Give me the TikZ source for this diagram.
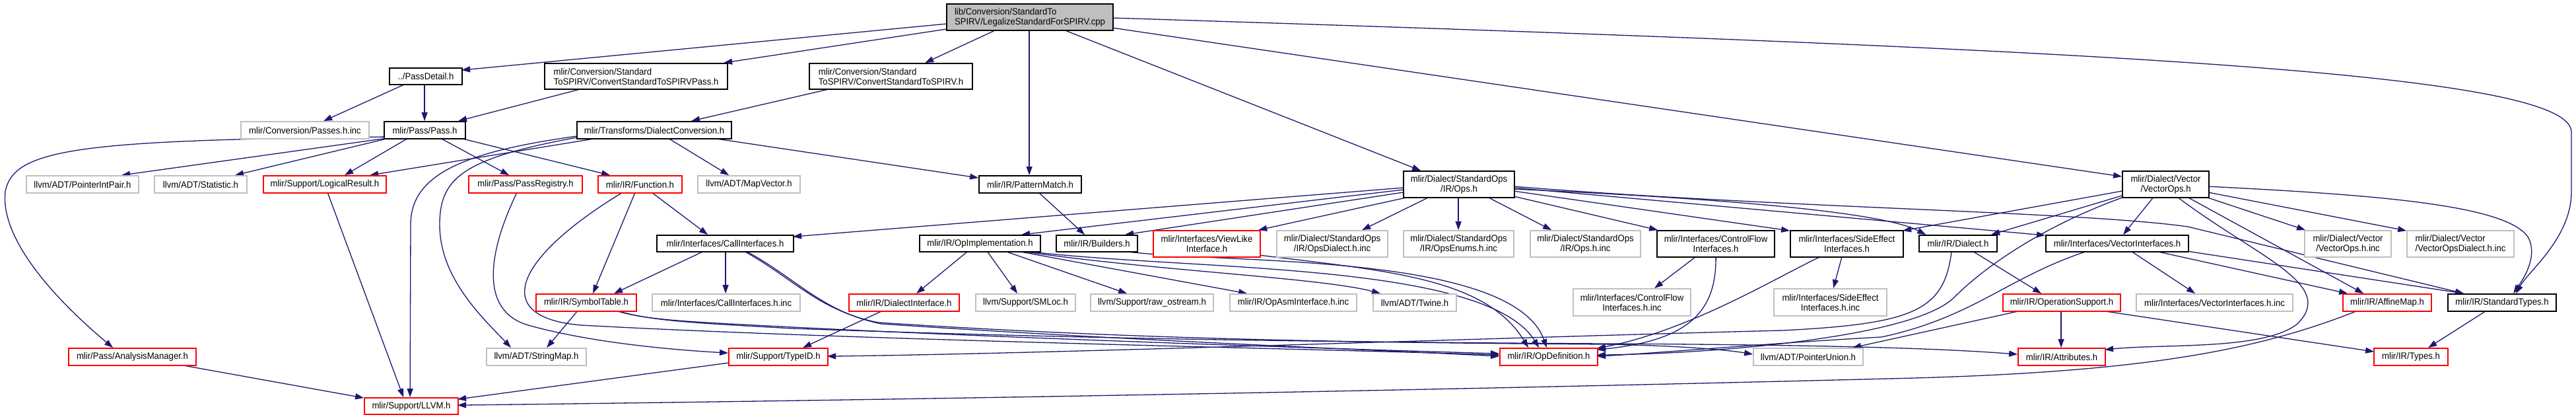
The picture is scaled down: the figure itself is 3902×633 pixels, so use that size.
\documentclass[tikz,border=0pt]{standalone}
\usepackage{fontspec}
\setmainfont{Liberation Sans}[FakeStretch=0.94]
\usetikzlibrary{arrows.meta,calc}
\definecolor{mblue}{RGB}{25,25,112}
\definecolor{lgray}{RGB}{191,191,191}
\definecolor{rootfill}{RGB}{191,191,191}
\pgfdeclarelayer{bgl}
\pgfdeclarelayer{edl}
\pgfsetlayers{bgl,edl,main}
\tikzset{
  nd/.style={draw, line width=1.8pt, inner xsep=4pt, inner ysep=0pt, minimum height=26pt, fill=white, font=\fontsize{14}{15}\selectfont},
  blk/.style={nd, draw=black},
  rd/.style={nd, draw=red},
  gy/.style={nd, draw=lgray},
  rt/.style={nd, draw=black, fill=rootfill},
  two/.style={minimum height=40pt},
  dep/.style={draw=mblue, line width=1.3pt, -{Triangle[length=13pt,width=9pt]}}
}
\begin{document}
\begin{tikzpicture}[x=1pt,y=-1pt]
\useasboundingbox (0,0) rectangle (3902,633);
\begin{pgfonlayer}{bgl}
\fill[white] (0,0) rectangle (3902,633);
\end{pgfonlayer}
% row 0
\node[rt, two, minimum width=252pt, align=left] (root) at (1560,26) {lib/Conversion/StandardTo\\SPIRV/LegalizeStandardForSPIRV.cpp};
% row 1
\node[blk, minimum width=110pt, minimum height=25pt] (passdetail) at (645,115.5) {../PassDetail.h};
\node[blk, minimum width=277pt, minimum height=39pt, align=left] (cpass) at (963.5,115.5) {mlir/Conversion/Standard\\ToSPIRV/ConvertStandardToSPIRVPass.h};
\node[blk, minimum width=247pt, minimum height=39pt, align=left] (cstd) at (1349.5,115.5) {mlir/Conversion/Standard\\ToSPIRV/ConvertStandardToSPIRV.h};
% row 2
\node[gy, minimum width=194pt] (passesinc) at (462,197) {mlir/Conversion/Passes.h.inc};
\node[blk, minimum width=123pt] (pass) at (643.5,197) {mlir/Pass/Pass.h};
\node[blk, minimum width=234pt] (dconv) at (991,197) {mlir/Transforms/DialectConversion.h};
% row 3
\node[blk, two, minimum width=168pt, align=center] (stdops) at (2210,279) {mlir/Dialect/StandardOps\\/IR/Ops.h};
\node[blk, two, minimum width=131pt, align=center] (vecops) at (3280.5,279) {mlir/Dialect/Vector\\/VectorOps.h};
\node[gy, minimum width=170pt] (pip) at (125,279) {llvm/ADT/PointerIntPair.h};
\node[gy, minimum width=140pt] (stat) at (304,279) {llvm/ADT/Statistic.h};
\node[rd, minimum width=186pt] (logres) at (492,279) {mlir/Support/LogicalResult.h};
\node[rd, minimum width=172pt] (passreg) at (796,279) {mlir/Pass/PassRegistry.h};
\node[rd, minimum width=127pt] (func) at (969.5,279) {mlir/IR/Function.h};
\node[gy, minimum width=155pt] (mapvec) at (1134.5,279) {llvm/ADT/MapVector.h};
\node[blk, minimum width=155pt] (pmatch) at (1560.5,279) {mlir/IR/PatternMatch.h};
% row 4
\node[blk, minimum width=207pt, minimum height=25pt] (callif) at (1098.5,368.5) {mlir/Interfaces/CallInterfaces.h};
\node[blk, minimum width=183pt, minimum height=25pt] (opimpl) at (1484.5,368.5) {mlir/IR/OpImplementation.h};
\node[blk, minimum width=123pt, minimum height=25pt] (builders) at (1661.5,368.5) {mlir/IR/Builders.h};
\node[rd, two, minimum width=162pt, align=center] (viewlike) at (1828,369) {mlir/Interfaces/ViewLike\\Interface.h};
\node[gy, two, minimum width=168pt, align=center] (opsdinc) at (2018,369) {mlir/Dialect/StandardOps\\/IR/OpsDialect.h.inc};
\node[gy, two, minimum width=167pt, align=center] (opsenums) at (2209.5,369) {mlir/Dialect/StandardOps\\/IR/OpsEnums.h.inc};
\node[gy, two, minimum width=167pt, align=center] (opsinc) at (2401.5,369) {mlir/Dialect/StandardOps\\/IR/Ops.h.inc};
\node[blk, two, minimum width=178pt, align=center] (cflow) at (2599,369) {mlir/Interfaces/ControlFlow\\Interfaces.h};
\node[blk, two, minimum width=171pt, align=center] (seffect) at (2797.5,369) {mlir/Interfaces/SideEffect\\Interfaces.h};
\node[blk, minimum width=118pt, minimum height=25pt] (dialect) at (2966,368.5) {mlir/IR/Dialect.h};
\node[blk, minimum width=216pt, minimum height=25pt] (vecif) at (3207,368.5) {mlir/Interfaces/VectorInterfaces.h};
\node[gy, two, minimum width=131pt, align=center] (vecopsinc) at (3556.5,369) {mlir/Dialect/Vector\\/VectorOps.h.inc};
\node[gy, two, minimum width=162pt, align=left] (vecdinc) at (3727,369) {mlir/Dialect/Vector\\/VectorOpsDialect.h.inc};
% row 5
\node[rd, minimum width=152pt] (symtab) at (888,458) {mlir/IR/SymbolTable.h};
\node[gy, minimum width=224pt] (callinc) at (1100,458) {mlir/Interfaces/CallInterfaces.h.inc};
\node[rd, minimum width=167pt] (dialif) at (1369.5,458) {mlir/IR/DialectInterface.h};
\node[gy, minimum width=151pt] (smloc) at (1553.5,458) {llvm/Support/SMLoc.h};
\node[gy, minimum width=186pt] (rawos) at (1745,458) {llvm/Support/raw\_ostream.h};
\node[gy, minimum width=192pt] (opasm) at (1959,458) {mlir/IR/OpAsmInterface.h.inc};
\node[gy, minimum width=126pt] (twine) at (2143,458) {llvm/ADT/Twine.h};
\node[gy, minimum width=178pt, minimum height=41pt, align=center] (cflowinc) at (2472,457.5) {mlir/Interfaces/ControlFlow\\Interfaces.h.inc};
\node[gy, minimum width=171pt, minimum height=41pt, align=center] (seffectinc) at (2772.5,457.5) {mlir/Interfaces/SideEffect\\Interfaces.h.inc};
\node[rd, minimum width=178pt] (opsupport) at (3123,458) {mlir/IR/OperationSupport.h};
\node[gy, minimum width=237pt] (vecifinc) at (3354.5,458) {mlir/Interfaces/VectorInterfaces.h.inc};
\node[rd, minimum width=134pt] (affine) at (3616,458) {mlir/IR/AffineMap.h};
\node[blk, minimum width=164pt] (stdtypes) at (3790,458) {mlir/IR/StandardTypes.h};
% row 6
\node[rd, minimum width=193pt] (analysis) at (200.5,540) {mlir/Pass/AnalysisManager.h};
\node[gy, minimum width=151pt] (strmap) at (812.5,540) {llvm/ADT/StringMap.h};
\node[rd, minimum width=150pt] (typeid) at (1179,540) {mlir/Support/TypeID.h};
\node[rd, minimum width=148pt] (opdef) at (2346,540) {mlir/IR/OpDefinition.h};
\node[gy, minimum width=166pt] (punion) at (2739,540) {llvm/ADT/PointerUnion.h};
\node[rd, minimum width=132pt] (attrs) at (3123,540) {mlir/IR/Attributes.h};
\node[rd, minimum width=112pt] (types) at (3652,540) {mlir/IR/Types.h};
% row 7
\node[rd, minimum width=142pt, minimum height=25pt] (llvm) at (623,614.5) {mlir/Support/LLVM.h};

\begin{pgfonlayer}{edl}
% root
\draw[dep] ($(root.north west)+(0,31)$) -- ($(passdetail.north west)+(110,4)$);
\draw[dep] ($(root.north west)+(0,39)$) -- ($(cpass.north west)+(272,0)$);
\draw[dep] ($(root.north west)+(76,40)$) -- ($(cstd.north west)+(176,0)$);
\draw[dep] ($(root.north west)+(126,40)$) -- ($(pmatch.north west)+(77,0)$);
\draw[dep] ($(root.north west)+(178,40)$) -- ($(stdops.north west)+(27,0)$);
\draw[dep] ($(root.north west)+(252,37)$) -- ($(vecops.north west)+(0,9)$);
\draw[dep] ($(root.north west)+(252,22)$) .. controls (3200,75) and (3895,110) .. (3895,200) -- (3895,290) .. controls (3895,360) and (3830,410) .. ($(stdtypes.north west)+(104,0)$);
% PassDetail, cpass, cstd
\draw[dep] ($(passdetail.north west)+(25,25)$) -- ($(passesinc.north west)+(126,0)$);
\draw[dep] ($(passdetail.north west)+(54,25)$) -- ($(pass.north west)+(62,0)$);
\draw[dep] ($(cpass.north west)+(58,39)$) -- ($(pass.north west)+(113,0)$);
\draw[dep] ($(cstd.north west)+(34,39)$) -- ($(dconv.north west)+(174,0)$);
% Pass.h
\draw[dep] ($(pass.north west)+(0,24)$) .. controls (120,212) and (20,225) .. (8,290) .. controls (0,360) and (80,450) .. ($(analysis.north west)+(68,0)$);
\draw[dep] ($(pass.north west)+(5,26)$) -- ($(pip.north west)+(145,0)$);
\draw[dep] ($(pass.north west)+(8,26)$) -- ($(stat.north west)+(123,0)$);
\draw[dep] ($(pass.north west)+(37,26)$) -- ($(logres.north west)+(124,0)$);
\draw[dep] ($(pass.north west)+(86,26)$) -- ($(passreg.north west)+(62,0)$);
\draw[dep] ($(pass.north west)+(116,26)$) -- ($(func.north west)+(19,0)$);
% DialectConversion
\draw[dep] ($(dconv.north west)+(32,26)$) -- ($(logres.north west)+(162,0)$);
\draw[dep] ($(dconv.north west)+(0,23)$) .. controls (700,230) and (622,265) .. (622,340) -- ($(llvm.north west)+(70,0)$);
\draw[dep] ($(dconv.north west)+(0,25)$) .. controls (700,240) and (666,270) .. (666,340) .. controls (666,420) and (730,480) .. ($(strmap.north west)+(38,0)$);
\draw[dep] ($(dconv.north west)+(139,26)$) -- ($(mapvec.north west)+(48,0)$);
\draw[dep] ($(dconv.north west)+(206,26)$) -- ($(pmatch.north west)+(0,4)$);
% to LLVM.h
\draw[dep] ($(analysis.north west)+(170,26)$) -- ($(llvm.north west)+(0,1)$);
\draw[dep] ($(logres.north west)+(98,26)$) -- ($(llvm.north west)+(60,0)$);
\draw[dep] ($(typeid.north west)+(0,23)$) -- ($(llvm.north west)+(142,3)$);
\draw[dep] ($(affine.north west)+(23,26)$) .. controls (3420,530) and (3250,562) .. (2900,572) .. controls (2000,595) and (1200,607) .. ($(llvm.north west)+(142,12)$);
% PassRegistry
\draw[dep] ($(passreg.north west)+(74,26)$) .. controls (740,380) and (725,470) .. (800,492) .. controls (900,520) and (1030,530) .. ($(typeid.north west)+(0,8)$);
% Function.h
\draw[dep] ($(func.north west)+(82,26)$) -- ($(callif.north west)+(78,0)$);
\draw[dep] ($(func.north west)+(57,26)$) -- ($(symtab.north west)+(87,0)$);
\draw[dep] ($(func.north west)+(38,26)$) .. controls (780,390) and (740,480) .. (880,492) .. controls (1300,515) and (2000,528) .. ($(opdef.north west)+(0,11)$);
% CallInterfaces.h
\draw[dep] ($(callif.north west)+(72,25)$) -- ($(symtab.north west)+(119,0)$);
\draw[dep] ($(callif.north west)+(105,25)$) -- ($(callinc.north west)+(112,0)$);
\draw[dep] ($(callif.north west)+(133,25)$) .. controls (1200,420) and (1240,470) .. (1330,488) .. controls (1700,512) and (2000,518) .. (2430,521) .. controls (2550,523) and (2620,530) .. ($(punion.north west)+(0,10)$);
\draw[dep] ($(callif.north west)+(136,25)$) .. controls (1205,420) and (1245,472) .. (1335,490) .. controls (1700,515) and (2100,530) .. ($(opdef.north west)+(0,13)$);
% SymbolTable.h
\draw[dep] ($(symtab.north west)+(64,26)$) -- ($(strmap.north west)+(92,0)$);
\draw[dep] ($(symtab.north west)+(122,26)$) .. controls (980,485) and (1050,487) .. (1200,495) .. controls (1600,515) and (2100,530) .. ($(opdef.north west)+(0,9)$);
\draw[dep] ($(symtab.north west)+(124,26)$) .. controls (985,486) and (1060,489) .. (1200,497) .. controls (1700,515) and (2100,518) .. (2430,520) .. controls (2800,522) and (2950,528) .. ($(attrs.north west)+(0,10)$);
% PatternMatch
\draw[dep] ($(pmatch.north west)+(91,26)$) -- ($(builders.north west)+(44,0)$);
% OpImplementation
\draw[dep] ($(opimpl.north west)+(74,25)$) -- ($(dialif.north west)+(103,0)$);
\draw[dep] ($(opimpl.north west)+(103,25)$) -- ($(smloc.north west)+(64,0)$);
\draw[dep] ($(opimpl.north west)+(130,25)$) -- ($(rawos.north west)+(56,0)$);
\draw[dep] ($(opimpl.north west)+(149,25)$) -- ($(opasm.north west)+(27,0)$);
\draw[dep] ($(opimpl.north west)+(155,25)$) .. controls (1750,410) and (2000,420) .. ($(twine.north west)+(12,0)$);
\draw[dep] ($(opimpl.north west)+(162,25)$) .. controls (1800,410) and (2250,395) .. ($(opdef.north west)+(60,0)$);
\draw[dep] ($(builders.north west)+(102,25)$) .. controls (1850,400) and (2290,380) .. ($(opdef.north west)+(72,0)$);
\draw[dep] ($(viewlike.north west)+(162,38)$) .. controls (2100,410) and (2250,420) .. ($(opdef.north west)+(44,0)$);
\draw[dep] ($(dialif.north west)+(52,26)$) -- ($(typeid.north west)+(113,0)$);
% StandardOps Ops.h
\draw[dep] ($(stdops.north west)+(0,26)$) -- ($(callif.north west)+(207,3)$);
\draw[dep] ($(stdops.north west)+(0,29)$) -- ($(opimpl.north west)+(155,0)$);
\draw[dep] ($(stdops.north west)+(0,33)$) -- ($(builders.north west)+(105,0)$);
\draw[dep] ($(stdops.north west)+(9,40)$) -- ($(viewlike.north west)+(160,0)$);
\draw[dep] ($(stdops.north west)+(40,40)$) -- ($(opsdinc.north west)+(130,0)$);
\draw[dep] ($(stdops.north west)+(84,40)$) -- ($(opsenums.north west)+(84,0)$);
\draw[dep] ($(stdops.north west)+(128,40)$) -- ($(opsinc.north west)+(33,0)$);
\draw[dep] ($(stdops.north west)+(168,39)$) -- ($(cflow.north west)+(2,0)$);
\draw[dep] ($(stdops.north west)+(168,31)$) -- ($(seffect.north west)+(0,1)$);
\draw[dep] ($(stdops.north west)+(168,28)$) .. controls (2600,300) and (2850,320) .. ($(dialect.north west)+(11,0)$);
\draw[dep] ($(stdops.north west)+(168,26)$) -- ($(vecif.north west)+(0,1)$);
\draw[dep] ($(stdops.north west)+(168,24)$) .. controls (2700,315) and (3150,320) .. (3314,343) -- ($(stdtypes.north west)+(25,0)$);
% VectorOps.h
\draw[dep] ($(vecops.north west)+(0,38)$) -- ($(dialect.north west)+(110,0)$);
\draw[dep] ($(vecops.north west)+(0,31)$) -- ($(seffect.north west)+(171,1)$);
\draw[dep] ($(vecops.north west)+(3,40)$) .. controls (3100,340) and (3010,400) .. (2960,450) .. controls (2900,510) and (2600,535) .. ($(opdef.north west)+(148,11)$);
\draw[dep] ($(vecops.north west)+(48,40)$) -- ($(vecif.north west)+(118,0)$);
\draw[dep] ($(vecops.north west)+(84,40)$) .. controls (3420,390) and (3540,430) .. (3480,490) .. controls (3430,530) and (3280,520) .. ($(attrs.north west)+(132,3)$);
\draw[dep] ($(vecops.north west)+(99,40)$) -- ($(affine.north west)+(32,0)$);
\draw[dep] ($(vecops.north west)+(127,40)$) -- ($(vecopsinc.north west)+(2,0)$);
\draw[dep] ($(vecops.north west)+(131,33)$) -- ($(vecdinc.north west)+(0,1)$);
\draw[dep] ($(vecops.north west)+(131,24)$) .. controls (3600,295) and (3800,310) .. (3830,360) .. controls (3845,390) and (3820,425) .. ($(stdtypes.north west)+(100,0)$);
% Dialect.h
\draw[dep] ($(dialect.north west)+(82,25)$) -- ($(opsupport.north west)+(59,0)$);
\draw[dep] ($(dialect.north west)+(50,25)$) .. controls (2945,470) and (2900,490) .. (2700,500) .. controls (2300,510) and (1600,535) .. ($(typeid.north west)+(150,13)$);
% ControlFlow / SideEffect
\draw[dep] ($(cflow.north west)+(60,40)$) -- ($(cflowinc.north west)+(124,0)$);
\draw[dep] ($(cflow.north west)+(90,40)$) .. controls (2600,470) and (2560,515) .. ($(opdef.north west)+(148,3)$);
\draw[dep] ($(seffect.north west)+(79,40)$) -- ($(seffectinc.north west)+(91,0)$);
\draw[dep] ($(seffect.north west)+(47,40)$) .. controls (2690,420) and (2560,500) .. ($(opdef.north west)+(148,1)$);
% VectorInterfaces.h
\draw[dep] ($(vecif.north west)+(63,25)$) .. controls (3040,420) and (2990,480) .. (2850,510) .. controls (2700,518) and (2500,535) .. ($(opdef.north west)+(148,13)$);
\draw[dep] ($(vecif.north west)+(130,25)$) -- ($(vecifinc.north west)+(90,0)$);
\draw[dep] ($(vecif.north west)+(167,25)$) -- ($(affine.north west)+(8,0)$);
\draw[dep] ($(vecif.north west)+(215,25)$) -- ($(stdtypes.north west)+(25,0)$);
% OperationSupport, StandardTypes
\draw[dep] ($(opsupport.north west)+(89,26)$) -- ($(attrs.north west)+(66,0)$);
\draw[dep] ($(opsupport.north west)+(150,26)$) -- ($(types.north west)+(1,6)$);
\draw[dep] ($(opsupport.north west)+(28,26)$) -- ($(punion.north west)+(151,0)$);
\draw[dep] ($(stdtypes.north west)+(59,26)$) -- ($(types.north west)+(83,0)$);
\end{pgfonlayer}
\end{tikzpicture}
\end{document}
